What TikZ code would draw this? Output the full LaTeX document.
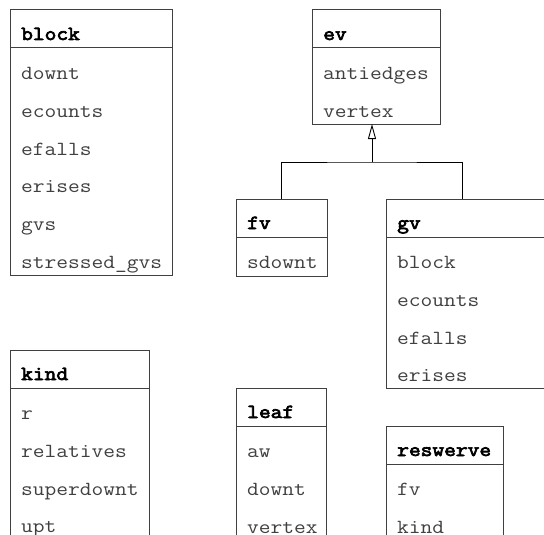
\documentclass[tikz,border=0pt]{standalone}
\usepackage{fontspec}
\usetikzlibrary{arrows.meta,calc}
\newfontfamily\umlreg[FakeStretch=1.14]{Latin Modern Mono}
\newfontfamily\umlbf[FakeStretch=1.14,FakeBold=3.5]{Latin Modern Mono}
\tikzset{
  classbox/.style={draw=black!75, line width=1pt, inner sep=0pt, outer sep=0pt, anchor=north west, fill=white},
  sepline/.style={draw=black!75, line width=1pt},
  attr/.style={anchor=base west, inner sep=0pt, font=\umlreg\fontsize{20}{20}\selectfont, text=black!75},
  ctitle/.style={anchor=base west, inner sep=0pt, font=\umlbf\fontsize{20}{20}\selectfont, text=black},
  conn/.style={draw=black, line width=0.9pt},
}
\newcommand\umlclass[6]{% name, x, y, width, height, title
  \node[classbox, minimum width=#4pt, minimum height=#5pt] (#1) at (#2,#3) {};
  \draw[sepline] ($(#1.north west)+(0,38)$) -- ($(#1.north east)+(0,38)$);
  \node[ctitle] (#1-title) at ($(#1.north west)+(11,30)$) {#6};
}
\newcommand\umlrows[2]{%
  \foreach \t [count=\i] in {#2} {
    \node[attr] (#1-\i) at ($(#1.north west)+(11,{32+37.7*\i})$) {\t};
  }
}
\begin{document}
\begin{tikzpicture}[x=1pt,y=-1pt]
\useasboundingbox (0,0) rectangle (544,535);
\clip (0,0) rectangle (544,535);

\umlclass{block}{10}{10}{162}{265}{block}
\umlrows{block}{downt,ecounts,efalls,erises,gvs,stressed\_gvs}

\umlclass{ev}{312}{10}{128}{114}{ev}
\umlrows{ev}{antiedges,vertex}

\umlclass{fv}{236}{199}{91}{77}{fv}
\umlrows{fv}{sdownt}

\umlclass{gv}{386}{199}{170}{189}{gv}
\umlrows{gv}{block,ecounts,efalls,erises}

\umlclass{kind}{10}{350}{139}{200}{kind}
\umlrows{kind}{r,relatives,superdownt,upt}

\umlclass{leaf}{236}{388}{90}{160}{leaf}
\umlrows{leaf}{aw,downt,vertex}

\umlclass{reswerve}{386}{426}{117}{130}{reswerve}
\umlrows{reswerve}{fv,kind}

\coordinate (evbot) at ($(ev.south west)+(60,0)$);
\coordinate (gvtop) at ($(gv.north west)+(76,0)$);
\coordinate (j) at ($(evbot)+(0,38)$);
\draw[conn] (fv.north) |- (j) -| (gvtop);
\draw[conn,-{Triangle[open,length=15pt,width=8pt,fill=white]}] (j) -- (evbot);
\end{tikzpicture}
\end{document}
